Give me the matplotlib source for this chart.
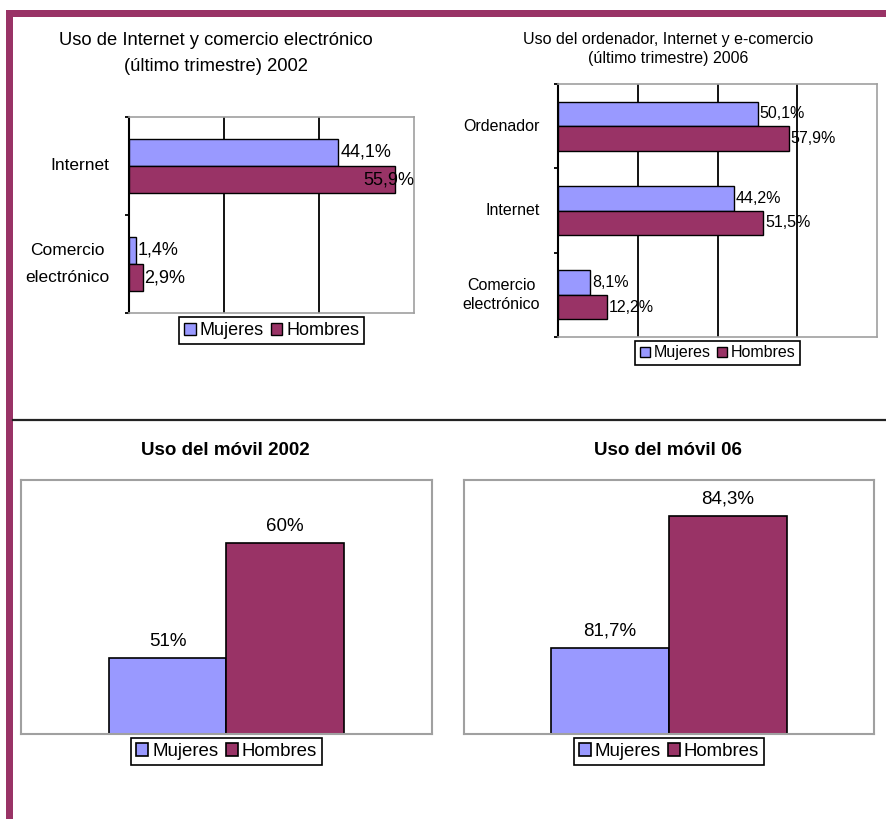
import numpy as np
import matplotlib
matplotlib.use('Agg')
import matplotlib.pyplot as plt
from matplotlib.patches import Rectangle
from matplotlib.lines import Line2D

W, H = 886, 819

plt.rcParams['font.family'] = ['Liberation Sans', 'DejaVu Sans']

MUJ_COLOR = '#9999ff'
HOM_COLOR = '#993366'
BORDER_COLOR = '#993366'

# datos
series = ['Mujeres', 'Hombres']

cats_2002 = ['Internet', 'Comercio\nelectrónico']
mujeres_2002 = [44.1, 1.4]
hombres_2002 = [55.9, 2.9]

cats_2006 = ['Ordenador', 'Internet', 'Comercio\nelectrónico']
mujeres_2006 = [50.1, 44.2, 8.1]
hombres_2006 = [57.9, 51.5, 12.2]

movil_2002 = [51, 60]
movil_2006 = [81.7, 84.3]


def pct(v):
    if float(v).is_integer():
        return f'{int(v)}%'
    return f'{v:.1f}%'.replace('.', ',')


def px_axes(fig, x0, y0, x1, y1):
    return fig.add_axes([x0 / W, 1 - y1 / H, (x1 - x0) / W, (y1 - y0) / H])


def legend(ax, fs, gap, bpad):
    leg = ax.legend(loc='upper center', bbox_to_anchor=(0.5, -gap), ncol=2, fontsize=fs,
                    frameon=True, fancybox=False, edgecolor='black', framealpha=1,
                    handlelength=0.65, handleheight=0.65, handletextpad=0.2,
                    columnspacing=0.4, borderpad=bpad, borderaxespad=0)
    leg.get_frame().set_linewidth(1.2)


def hbar_chart(ax, cats, muj, hom, xmax, grid, bar_h, fs_lab, fs_val, fs_leg, pad, lsp):
    y = np.arange(len(cats))
    ax.barh(y - bar_h / 2, muj, bar_h, color=MUJ_COLOR, edgecolor='black', lw=1, label=series[0], zorder=3)
    ax.barh(y + bar_h / 2, hom, bar_h, color=HOM_COLOR, edgecolor='black', lw=1, label=series[1], zorder=3)
    ax.set_xlim(0, xmax)
    ax.set_ylim(len(cats) - 0.5, -0.5)
    ax.set_xticks(grid)
    ax.tick_params(axis='x', length=0, labelbottom=False)
    ax.grid(axis='x', color='black', lw=1.3)
    ax.set_axisbelow(True)
    ax.set_yticks(y)
    ax.set_yticklabels(cats, fontsize=fs_lab, multialignment='center')
    for t in ax.get_yticklabels():
        t.set_linespacing(lsp)
        t.set_verticalalignment('center')
    ax.set_yticks(np.arange(len(cats) + 1) - 0.5, minor=True)
    ax.tick_params(axis='y', which='major', length=0, pad=pad)
    ax.tick_params(axis='y', which='minor', length=3, width=1.3, color='black')
    for s in ['top', 'right', 'bottom']:
        ax.spines[s].set_color('#a0a0a0')
        ax.spines[s].set_linewidth(1.2)
    ax.spines['left'].set_color('black')
    ax.spines['left'].set_linewidth(1.5)
    for yy, v in list(zip(y - bar_h / 2, muj)) + list(zip(y + bar_h / 2, hom)):
        if v > 0.85 * xmax:
            ax.text(xmax, yy, pct(v), ha='right', va='center', fontsize=fs_val, zorder=4)
        else:
            ax.annotate(pct(v), (v, yy), xytext=(1.2, 0), textcoords='offset points',
                        ha='left', va='center', fontsize=fs_val, zorder=4)
    legend(ax, fs_leg, 4 / (ax.get_position().height * H), 0.28)


def vbar_chart(ax, vals, ymin, ymax, w, fs_val, fs_leg):
    ax.bar(-w / 2, vals[0], w, color=MUJ_COLOR, edgecolor='black', lw=1.2, label=series[0])
    ax.bar(w / 2, vals[1], w, color=HOM_COLOR, edgecolor='black', lw=1.2, label=series[1])
    ax.set_xlim(-0.5, 0.5)
    ax.set_ylim(ymin, ymax)
    ax.set_xticks([])
    ax.set_yticks([])
    for s in ax.spines.values():
        s.set_color('#a0a0a0')
        s.set_linewidth(1.5)
    for xx, v in zip([-w / 2, w / 2], vals):
        ax.annotate(pct(v), (xx, v), xytext=(0, 12), textcoords='offset points',
                    ha='center', va='center', fontsize=fs_val)
    legend(ax, fs_leg, 4 / (ax.get_position().height * H), 0.28)


fig = plt.figure(figsize=(W / 100, H / 100), dpi=100)
fig.patch.set_facecolor('white')

# marco
fig.add_artist(Rectangle((6 / W, 1 - 17 / H), (W - 6) / W, 7 / H, transform=fig.transFigure,
                         color=BORDER_COLOR, lw=0))
fig.add_artist(Rectangle((6 / W, 0), 7 / W, (H - 10) / H, transform=fig.transFigure,
                         color=BORDER_COLOR, lw=0))
fig.add_artist(Line2D([13 / W, 1], [1 - 420 / H, 1 - 420 / H], transform=fig.transFigure,
                      color='#222222', lw=1.6))

# 2002 internet
ax1 = px_axes(fig, 129, 117, 414, 313)
hbar_chart(ax1, cats_2002, mujeres_2002, hombres_2002, 60, [20, 40], 0.28,
           12.5, 13, 13, 14, 2.0)
fig.text(216 / W, 1 - 53.5 / H, 'Uso de Internet y comercio electrónico\n(último trimestre) 2002',
         ha='center', va='center', fontsize=13.2, linespacing=1.75)

# 2006 internet
ax2 = px_axes(fig, 558, 84, 877, 337)
hbar_chart(ax2, cats_2006, mujeres_2006, hombres_2006, 80, [20, 40, 60], 0.29,
           11.5, 11.5, 11.5, 13, 1.35)
fig.text(668 / W, 1 - 49 / H, 'Uso del ordenador, Internet y e-comercio\n(último trimestre) 2006',
         ha='center', va='center', fontsize=11.5, linespacing=1.35)

# movil 2002
ax3 = px_axes(fig, 21, 480, 432, 734)
vbar_chart(ax3, movil_2002, 45, 65, 0.285, 13.5, 13.4)
fig.text(225 / W, 1 - 450 / H, 'Uso del móvil 2002', ha='center', va='center',
         fontsize=13.5, fontweight='bold')

# movil 2006
ax4 = px_axes(fig, 464, 480, 874, 734)
vbar_chart(ax4, movil_2006, 80, 85, 0.287, 13.5, 13.4)
fig.text(668 / W, 1 - 450 / H, 'Uso del móvil 06', ha='center', va='center',
         fontsize=13.5, fontweight='bold')

fig.savefig('out.png', dpi=100)
